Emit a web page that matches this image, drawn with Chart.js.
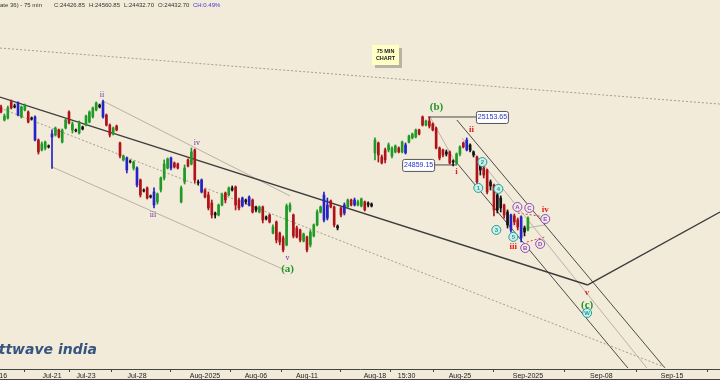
<!DOCTYPE html>
<html>
<head>
<meta charset="utf-8">
<script src="https://cdn.jsdelivr.net/npm/chart.js@4.4.1/dist/chart.umd.min.js"></script>
<style>
  html, body { margin: 0; padding: 0; background: #f3ebd9; }
  #wrap { width: 720px; height: 380px; }
</style>
</head>
<body>
<div id="wrap"><canvas id="chart" width="720" height="380"></canvas></div>
<script>
// Nifty 75 min bars, Jul-16 .. Sep-01 (bar index = 5 bars a day)
const openP = [25215,25135,25147,25246,25221,25240,25154,25197,25184,25147,
  25154,25012,24951,24963,24976,25031,25043,25074,25000,25086,
  25184,25074,25074,25055,25092,25104,25123,25154,25197,25227,
  25246,25166,25104,25049,25098,24994,24890,24902,24883,24840,
  24840,24767,24705,24718,24669,24693,24632,24705,24779,24840,
  24902,24871,24865,24632,24755,24890,24865,24951,24755,24767,
  24705,24675,24626,24564,24552,24613,24687,24675,24718,24724,
  24644,24656,24644,24662,24644,24601,24570,24601,24540,24552,
  24441,24509,24441,24411,24368,24583,24552,24472,24460,24392,
  24417,24368,24423,24491,24570,24521,24613,24638,24601,24484,
  24595,24564,24601,24644,24613,24613,24607,24632,24626,24619,
  24933,24994,24908,24951,24951,24914,24939,24963,24939,24982,
  25000,25025,25031,25074,25154,25104,25129,25111,25086,24963,
  24951,24939,24939,24883,24871,24926,24994,25012,24982,24939,
  24908,24859,24840,24828,24755,24736,24675,24656,24613,24570,
  24552,24546,24521,24540,24472,24460];
const highP = [25227,25172,25221,25258,25233,25246,25221,25233,25191,25154,
  25160,25019,25000,25006,24982,25074,25092,25080,25080,25141,
  25191,25123,25080,25129,25098,25166,25191,25215,25246,25233,
  25258,25172,25111,25092,25104,25000,24920,24908,24890,24883,
  24847,24773,24712,24724,24675,24718,24687,24785,24890,24902,
  24908,24877,24871,24730,24859,24896,24963,24957,24767,24773,
  24712,24693,24644,24570,24619,24687,24693,24724,24730,24730,
  24656,24662,24650,24669,24650,24607,24607,24607,24546,24558,
  24491,24515,24447,24423,24619,24626,24558,24484,24466,24441,
  24423,24460,24497,24583,24607,24693,24656,24644,24607,24491,
  24601,24626,24650,24650,24656,24644,24656,24638,24632,24626,
  25025,25000,24920,24963,24994,24970,24982,24970,25006,24994,
  25043,25055,25080,25080,25160,25135,25154,25117,25092,24970,
  24957,24951,24945,24890,24933,24976,25000,25025,24988,24945,
  24914,24871,24853,24834,24767,24742,24687,24669,24619,24583,
  24558,24558,24533,24546,24484,24540];
const lowP = [25178,25129,25141,25203,25209,25160,25147,25191,25117,25135,
  25006,24926,24945,24951,24963,24840,25037,25025,24994,25080,
  25111,25055,25062,25049,25074,25098,25117,25147,25191,25209,
  25147,25098,25031,25043,25068,24902,24883,24810,24871,24828,
  24724,24662,24693,24650,24656,24595,24619,24693,24767,24834,
  24828,24840,24834,24626,24742,24847,24859,24748,24736,24687,
  24656,24583,24533,24533,24546,24607,24626,24669,24699,24583,
  24583,24601,24619,24607,24564,24570,24564,24503,24521,24503,
  24435,24380,24368,24325,24362,24570,24411,24411,24386,24386,
  24325,24355,24417,24484,24564,24509,24521,24595,24478,24460,
  24540,24552,24595,24607,24607,24607,24601,24576,24601,24601,
  24890,24877,24865,24871,24939,24902,24933,24933,24933,24926,
  24994,25019,25025,25043,25098,25098,25086,25068,24957,24890,
  24908,24914,24865,24853,24865,24914,24963,24945,24939,24908,
  24736,24797,24779,24681,24705,24546,24564,24570,24533,24472,
  24447,24491,24460,24386,24423,24454];
const closeP = [25184,25160,25209,25209,25215,25166,25215,25227,25123,25141,
  25012,24939,24988,25000,24970,25049,25086,25031,25074,25135,
  25117,25111,25068,25123,25080,25160,25184,25209,25240,25215,
  25154,25104,25043,25086,25074,24914,24914,24828,24877,24877,
  24736,24675,24699,24656,24662,24613,24681,24779,24865,24896,
  24840,24847,24840,24718,24840,24853,24939,24767,24748,24693,
  24662,24595,24552,24552,24613,24675,24644,24718,24705,24613,
  24595,24607,24632,24613,24570,24583,24601,24521,24527,24509,
  24478,24398,24386,24337,24607,24613,24423,24417,24398,24435,
  24337,24447,24491,24570,24601,24675,24533,24601,24491,24472,
  24552,24613,24644,24613,24644,24632,24650,24583,24613,24607,
  25012,24920,24871,24890,24982,24963,24976,24939,25000,24933,
  25037,25049,25074,25049,25104,25129,25098,25074,24963,24902,
  24920,24926,24871,24877,24926,24970,24970,24951,24951,24920,
  24755,24828,24797,24693,24730,24583,24583,24595,24552,24491,
  24460,24509,24478,24411,24447,24533];
// r = down bar, g = up bar, b = blue bar, k = neutral bar
const barKind = 'rggrkbggrk' + 'brggkbgrgg' + 'rgkgkggggk' + 'brrgrrgbkg' + 'brkrkbgggg' +
  'brrggrgrkb' + 'rrrkggrgkr' + 'rbkbrkgrkr' + 'grrrggrrrg' + 'rggggbbrrk' +
  'rbgrbggrkk' + 'grrrgggrgb' + 'gggrrgrrrr' + 'rkrkggrbkk' + 'rkrrkrkkrk' + 'brrbkg';

// x axis labels (bar index where each shown date starts)
const tickAt   = [-1, 15, 25, 40, 60, 75, 90, 110, 119.3, 135, 155, 176.6, 197.4];
const tickText = ['Jul-16', 'Jul-21', 'Jul-23', 'Jul-28', 'Aug-2025', 'Aug-06', 'Aug-11',
                  'Aug-18', '15:30', 'Aug-25', 'Sep-2025', 'Sep-08', 'Sep-15'];

// trendlines: [barFrom, priceFrom, barTo, priceTo, kind]
const trendLines = [
  [-0.3, 25577, 211.5, 25233, 'dotted'],
  [-0.3, 25276, 172.6, 24122, 'main'],
  [172.6, 24122, 211.5, 24570, 'main'],
  [-0.3, 25209, 195.9, 23612, 'dotted'],
  [30, 25252, 85, 24669, 'light'],
  [15, 24847, 83.5, 24214, 'light'],
  [125.6, 25153.65, 139.7, 25153.65, 'dark'],
  [127.4, 24859.15, 134.1, 24859.15, 'dark'],
  [126.2, 25153.65, 134.1, 24859, 'light'],
  [134.1, 25135, 195.3, 23612, 'dark'],
  [134.1, 24871, 184.4, 23612, 'dark'],
  [135.6, 25025, 190, 23612, 'light'],
  [152, 24564, 160, 24540, 'reddash'],
  [154.7, 24386, 160, 24417, 'reddash'],
  [154.7, 24472, 160, 24491, 'light']
];

// wave counts: [bar, price, text, kind]
const waveLabels = [
  [29.7, 25289, 'ii', 'minor'], [15.0, 24847, 'i', 'minor'], [44.7, 24552, 'iii', 'minor'],
  [57.6, 24994, 'iv', 'minor'], [84.3, 24288, 'v', 'minor'],
  [84.3, 24220, '(a)', 'major'], [128.1, 25215, '(b)', 'major'], [172.4, 24000, '(c)', 'major'],
  [134.0, 24816, 'i', 'sub'], [138.4, 25074, 'ii', 'sub'], [150.7, 24355, 'iii', 'sub'],
  [160.1, 24583, 'iv', 'sub'], [172.4, 24073, 'v', 'sub'],
  [140.4, 24718, '1', 'num'], [141.6, 24877, '2', 'num'], [145.7, 24460, '3', 'num'],
  [146.3, 24712, '4', 'num'], [150.7, 24417, '5', 'num'], [172.4, 23950, 'W', 'num'],
  [151.9, 24601, 'A', 'abc'], [154.2, 24349, 'B', 'abc'], [155.4, 24595, 'C', 'abc'],
  [158.6, 24374, 'D', 'abc'], [160.1, 24527, 'E', 'abc']
];

// price tags: [bar, price, text, side]
const priceTags = [
  [139.7, 25153.65, '25153.65', 'right'],
  [127.4, 24859.15, '24859.15', 'left']
];

const kindColor = { r: '#b0121a', g: '#1f9a27', b: '#2323c8', k: '#141414' };
const lineStyle = {
  dotted:  { color: '#a49d90', width: 1, dash: [2, 2] },
  main:    { color: '#3c3c3c', width: 1.4, dash: [] },
  dark:    { color: '#4a4a4a', width: 1, dash: [] },
  light:   { color: '#b8b2a6', width: 1, dash: [] },
  reddash: { color: '#e04040', width: 1, dash: [2, 2] }
};

const idx = openP.map((v, i) => i);
const colors = idx.map(i => kindColor[barKind[i]]);

const datasets = [
  {
    type: 'bar', label: 'body', order: 1, grouped: false,
    data: idx.map(i => ({ x: i, y: [openP[i], closeP[i]] })),
    backgroundColor: colors, barThickness: 2, minBarLength: 1
  },
  {
    type: 'bar', label: 'wick', order: 2, grouped: false,
    data: idx.map(i => ({ x: i, y: [lowP[i], highP[i]] })),
    backgroundColor: colors, barThickness: 1
  }
];
trendLines.forEach(t => {
  const s = lineStyle[t[4]];
  datasets.push({
    type: 'line', order: 3,
    data: [{ x: t[0], y: t[1] }, { x: t[2], y: t[3] }],
    borderColor: s.color, borderWidth: s.width, borderDash: s.dash,
    pointRadius: 0, fill: false, tension: 0
  });
});

const overlay = {
  id: 'overlay',
  beforeDraw(chart) {
    const c = chart.ctx;
    c.save();
    c.fillStyle = '#f3ebd9';
    c.fillRect(0, 0, chart.width, chart.height);
    c.restore();
  },
  afterDraw(chart) {
    const c = chart.ctx;
    const xs = chart.scales.x, ys = chart.scales.y;
    c.save();

    // header
    c.font = '6px "Liberation Sans"';
    c.textBaseline = 'middle';
    c.fillStyle = '#333';
    c.fillText('ate 36) - 75 min', 0, 5);
    c.fillText('C:24426.85', 54, 5);
    c.fillText('H:24560.85', 89, 5);
    c.fillText('L:24432.70', 124, 5);
    c.fillText('O:24432.70', 158, 5);
    c.fillStyle = '#3a3ad8';
    c.fillText('CH:0.49%', 193, 5);

    // 75 MIN CHART note
    c.fillStyle = '#b9b3a6';
    c.fillRect(375, 48, 27, 20);
    c.fillStyle = '#ffffc4';
    c.fillRect(372, 45, 27, 20);
    c.fillStyle = '#222';
    c.font = 'bold 5.5px "Liberation Sans"';
    c.textAlign = 'center';
    c.fillText('75 MIN', 385.5, 51);
    c.fillText('CHART', 385.5, 58.5);

    // price tags
    c.font = '7px "Liberation Sans"';
    priceTags.forEach(p => {
      const px = xs.getPixelForValue(p[0]), py = ys.getPixelForValue(p[1]);
      const w = 32, h = 12;
      const x0 = p[3] === 'right' ? px : px - w;
      c.fillStyle = '#fff';
      c.strokeStyle = '#555';
      c.lineWidth = 1;
      c.beginPath();
      c.roundRect(x0 + 0.5, py - h / 2 + 0.5, w, h, 2);
      c.fill();
      c.stroke();
      c.fillStyle = '#2434c8';
      c.fillText(p[2], x0 + w / 2 + 0.5, py + 0.5);
    });

    // wave labels
    waveLabels.forEach(l => {
      const px = xs.getPixelForValue(l[0]), py = ys.getPixelForValue(l[1]);
      c.textAlign = 'center';
      c.textBaseline = 'middle';
      if (l[3] === 'minor') {
        c.font = '8px "Liberation Serif"';
        c.fillStyle = '#6e2f9e';
        c.fillText(l[2], px, py);
      } else if (l[3] === 'major') {
        c.font = 'bold 11px "Liberation Serif"';
        c.fillStyle = '#23962c';
        c.fillText(l[2], px, py);
      } else if (l[3] === 'sub') {
        c.font = 'bold 9px "Liberation Serif"';
        c.fillStyle = '#e02222';
        c.fillText(l[2], px, py);
      } else {
        const col = l[3] === 'num' ? '#1f9f9a' : '#8a4cc4';
        c.beginPath();
        c.arc(px, py, 4.5, 0, Math.PI * 2);
        c.fillStyle = l[3] === 'num' ? '#cfeee8' : '#f3ebd9';
        c.fill();
        c.strokeStyle = col;
        c.lineWidth = 1;
        c.stroke();
        c.font = 'bold 6px "Liberation Sans"';
        c.fillStyle = col;
        c.fillText(l[2], px, py + 0.5);
      }
    });

    // watermark
    c.font = 'italic bold 14px "DejaVu Sans"';
    c.fillStyle = '#35557f';
    c.textAlign = 'right';
    c.textBaseline = 'alphabetic';
    c.fillText('elliottwave india', 97, 354);

    // bottom frame line
    c.strokeStyle = '#444';
    c.lineWidth = 1;
    c.beginPath();
    c.moveTo(0, 379.5);
    c.lineTo(720, 379.5);
    c.stroke();
    c.restore();
  }
};

new Chart(document.getElementById('chart'), {
  type: 'bar',
  data: { datasets },
  plugins: [overlay],
  options: {
    responsive: false,
    animation: false,
    devicePixelRatio: 1,
    layout: { padding: 0 },
    plugins: { legend: { display: false }, tooltip: { enabled: false } },
    scales: {
      x: {
        type: 'linear', min: -0.3, max: 211.5, offset: false,
        grid: { display: true, drawOnChartArea: false, drawTicks: true, tickLength: 3, color: '#444' },
        border: { display: true, color: '#444', width: 1 },
        afterBuildTicks: s => { s.ticks = tickAt.map(v => ({ value: v })); },
        afterFit: s => { s.height = 11; s.paddingLeft = 0; s.paddingRight = 0; },
        ticks: {
          autoSkip: false, maxRotation: 0, padding: 0,
          color: '#222', font: { family: 'Liberation Sans', size: 7 },
          callback: v => tickText[tickAt.indexOf(v)]
        }
      },
      y: { display: false, min: 23606, max: 25872 }
    }
  }
});
</script>
</body>
</html>
